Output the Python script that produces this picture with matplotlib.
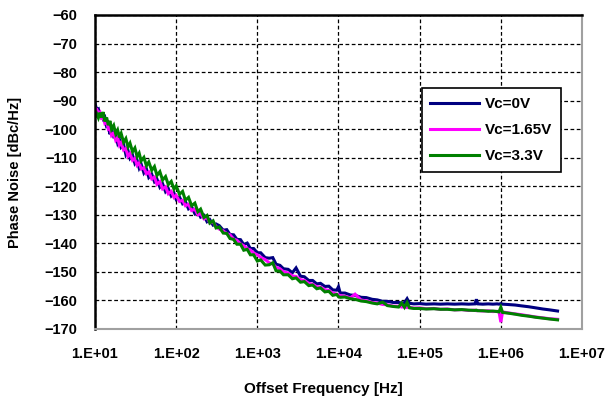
import matplotlib
matplotlib.use("Agg")
import matplotlib.pyplot as plt
from matplotlib.ticker import NullLocator

plt.rcParams['font.family'] = ['Liberation Sans', 'DejaVu Sans']
plt.rcParams['font.weight'] = 'bold'

# offset frequency points [Hz]
freq = [
    10, 10.5, 11, 11.5, 12, 12.6, 13.2, 13.9, 14.6, 15.3,
    16, 17, 18, 19, 20, 21, 22.5, 24, 25.5, 27,
    29, 31, 33, 35, 37, 40, 43, 46, 50, 54,
    58, 63, 68, 74, 80, 87, 94, 100, 110, 120,
    130, 142, 155, 170, 185, 200, 220, 240, 260, 285,
    310,
    340, 380, 420, 460, 510, 560, 620, 680, 750, 820,
    900, 1000, 1100, 1250, 1400, 1550, 1700, 1900, 2100, 2400,
    2700, 3000, 3400, 3800, 4300, 4800, 5400, 6000, 6800, 7600,
    8500, 9500, 10000, 10500,
    12000, 14000, 16000, 19000, 22000, 26000, 30000, 35000, 40000, 47000,
    55000, 60000, 65000, 70000, 75000, 85000, 100000, 120000, 150000, 180000,
    220000, 270000, 330000, 400000, 480000, 500000, 520000, 600000, 700000, 800000,
    900000, 950000, 1000000, 1050000, 1200000, 1500000, 1800000, 2200000, 2700000, 3300000,
    4000000, 5000000,
]

# phase noise [dBc/Hz]
pn_0v = [
    -91.0, -93.2, -92.9, -95.6, -94.3, -96.4, -95.8, -99.1, -98.9, -101.8,
    -100.1, -102.6, -102.2, -104.9, -103.6, -106.3, -105.4, -108.9, -107.5, -110.2,
    -109.1, -112.0, -110.9, -113.6, -112.2, -115.3, -113.9, -116.9, -115.8, -118.4,
    -117.5, -120.3, -119.1, -121.9, -120.8, -123.4, -122.4, -124.6, -123.8, -126.1,
    -125.4, -127.9, -127.2, -129.6, -128.8, -130.8, -130.2, -132.4, -131.7, -133.6,
    -133.2,
    -133.8, -135.4, -135.2, -136.9, -137.0, -138.6, -138.7, -140.4, -139.9, -141.8,
    -141.8, -143.3, -143.3, -145.0, -145.2, -145.0, -147.3, -147.7, -148.9, -149.1,
    -150.3, -148.6, -151.5, -151.7, -153.0, -153.0, -154.2, -154.0, -155.1, -155.0,
    -156.3, -156.4, -155.2, -157.4,
    -157.4, -158.1, -158.2, -158.9, -159.0, -159.6, -159.8, -160.3, -160.3, -160.7,
    -160.7, -160.9, -160.8, -159.4, -161.0, -161.2, -161.1, -161.3, -161.2, -161.3,
    -161.2, -161.3, -161.2, -161.3, -161.2, -159.6, -161.2, -161.3, -161.2, -161.3,
    -161.2, -161.3, -161.1, -161.3, -161.4, -161.6, -161.9, -162.2, -162.6, -163.0,
    -163.3, -163.7,
]

pn_165v = [
    -92.6, -93.0, -94.4, -94.0, -96.1, -95.8, -97.9, -97.2, -100.0, -99.6,
    -102.2, -101.5, -103.9, -103.0, -105.6, -104.7, -107.3, -106.8, -109.5, -108.6,
    -110.9, -110.2, -112.6, -111.8, -113.9, -113.5, -115.6, -115.0, -117.4, -116.8,
    -119.3, -118.4, -120.9, -120.2, -122.6, -121.8, -123.9, -123.2, -125.3, -124.9,
    -126.8, -126.3, -128.5, -128.0, -130.0, -129.6, -131.4, -131.0, -132.8, -132.6,
    -134.1,
    -135.0, -135.6, -136.6, -137.0, -138.5, -138.9, -140.2, -140.8, -141.9, -142.3,
    -143.4, -144.0, -144.9, -145.7, -146.8, -147.2, -148.4, -148.9, -149.9, -150.4,
    -151.4, -151.6, -152.7, -153.0, -154.0, -154.3, -155.2, -155.3, -156.2, -156.5,
    -157.4, -157.8, -158.0, -158.3,
    -158.5, -159.1, -157.8, -159.9, -160.1, -160.7, -160.9, -161.4, -161.5, -162.0,
    -162.0, -162.3, -162.2, -162.5, -162.4, -162.7, -162.6, -162.9, -162.8, -163.1,
    -163.0, -163.3, -163.2, -163.5, -163.4, -163.6, -163.5, -163.7, -163.6, -163.9,
    -163.8, -164.0, -167.6, -164.0, -164.3, -164.7, -165.0, -165.4, -165.8, -166.1,
    -166.4, -166.6,
]

pn_33v = [
    -95.8, -94.6, -96.0, -94.2, -95.9, -94.0, -97.3, -95.9, -98.6, -97.1,
    -100.0, -98.7, -101.6, -100.3, -102.9, -101.5, -104.6, -103.3, -106.2, -104.9,
    -107.9, -106.6, -109.6, -108.4, -111.1, -109.9, -112.8, -111.5, -114.4, -113.1,
    -116.2, -114.9, -117.8, -116.6, -119.4, -118.3, -121.0, -119.9, -122.8, -121.8,
    -124.9, -123.9, -126.8, -125.9, -128.9, -128.0, -130.9, -130.2, -132.9, -132.1,
    -134.6,
    -134.3, -136.4, -136.5, -138.3, -138.6, -140.3, -140.3, -142.4, -142.1, -144.0,
    -144.0, -146.2, -145.8, -147.6, -147.5, -146.8, -149.6, -149.7, -151.0, -151.0,
    -152.4, -152.1, -153.6, -153.4, -154.8, -154.6, -155.9, -155.6, -157.0, -156.8,
    -158.2, -157.9, -158.7, -158.9,
    -158.8, -159.4, -159.6, -160.2, -160.4, -160.9, -161.2, -160.6, -161.8, -162.1,
    -162.3, -160.9, -162.4, -160.7, -162.6, -162.8, -162.8, -163.0, -162.9, -163.1,
    -163.1, -163.3, -163.2, -163.4, -163.5, -163.4, -163.6, -163.6, -163.8, -163.7,
    -163.9, -164.0, -162.4, -164.2, -164.4, -164.8, -165.2, -165.5, -165.9, -166.2,
    -166.5, -166.8,
]

series_labels = ['Vc=0V', 'Vc=1.65V', 'Vc=3.3V']
series_colors = ['#000080', '#ff00ff', '#008000']

x_ticks = [1e1, 1e2, 1e3, 1e4, 1e5, 1e6, 1e7]
x_tick_labels = ['1.E+01', '1.E+02', '1.E+03', '1.E+04', '1.E+05', '1.E+06', '1.E+07']
y_ticks = [-170, -160, -150, -140, -130, -120, -110, -100, -90, -80, -70, -60]

fig = plt.figure(figsize=(6.1, 4.01), dpi=100)
ax = fig.add_axes([95 / 610, 1 - 329 / 401, 487 / 610, 314 / 401])

for ys, lab, col in zip([pn_0v, pn_165v, pn_33v], series_labels, series_colors):
    ax.plot(freq, ys, color=col, lw=2.2, label=lab, solid_joinstyle='miter')

ax.set_xscale('log')
ax.set_xlim(1e1, 1e7)
ax.set_ylim(-170, -60)
ax.set_xticks(x_ticks, x_tick_labels)
ax.xaxis.set_minor_locator(NullLocator())
ax.set_yticks(y_ticks, [str(v).replace('-', '\u2212') for v in y_ticks])

ax.grid(True, color='black', ls=(0, (3, 2)), lw=0.9)
ax.tick_params(length=0, pad=13, labelsize=10.5)
for lab in ax.get_xticklabels() + ax.get_yticklabels():
    lab.set_fontweight('bold')

ax.spines['left'].set_linewidth(1.8)
ax.spines['top'].set_linewidth(1.8)
ax.spines['right'].set_color('#a0a0a0')
ax.spines['bottom'].set_color('#a0a0a0')
ax.spines['right'].set_linewidth(1.5)
ax.spines['bottom'].set_linewidth(1.5)

ax.set_xlabel('Offset Frequency [Hz]', fontsize=11, fontweight='bold')
ax.xaxis.set_label_coords(0.468, -0.169)
ax.set_ylabel('Phase Noise [dBc/Hz]', fontsize=10.5, fontweight='bold')
ax.yaxis.set_label_coords(-0.150, 0.5)

leg = ax.legend(loc='upper left', bbox_to_anchor=(0.671, 0.766), fontsize=11,
                frameon=True, fancybox=False, framealpha=1, edgecolor='black',
                handlelength=3.2, borderpad=0.55, labelspacing=0.8, handletextpad=0.4,
                borderaxespad=0)
leg.get_frame().set_linewidth(1.2)
for t in leg.get_texts():
    t.set_fontweight('bold')

fig.savefig('out.png', dpi=100)
